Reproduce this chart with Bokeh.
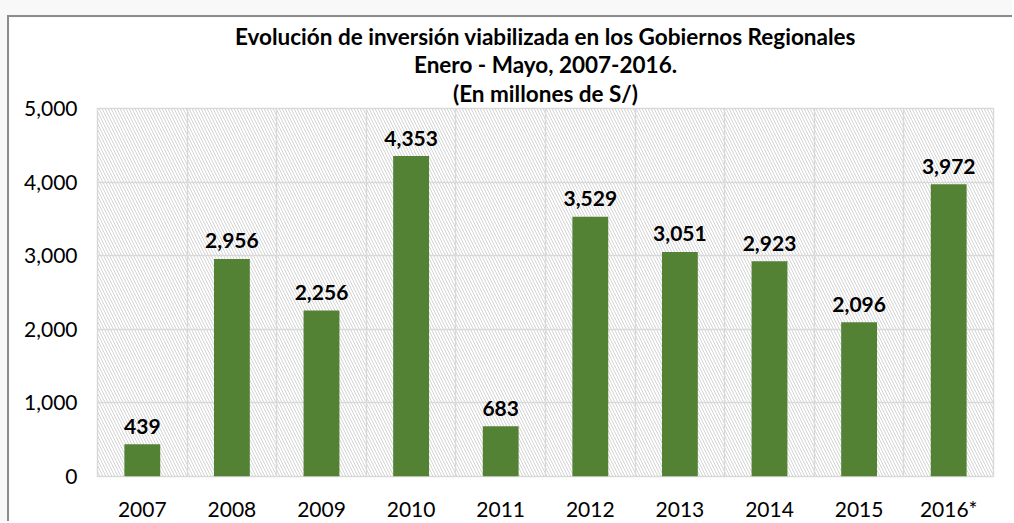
from bokeh.plotting import figure
from bokeh.models import Range1d, FixedTicker, Title, ColumnDataSource, NumeralTickFormatter
from bokeh.layouts import column
from bokeh.core.properties import value
from bokeh.embed import file_html
from bokeh.resources import INLINE

years = ["2007", "2008", "2009", "2010", "2011", "2012", "2013", "2014", "2015", "2016*"]
inversion = [439, 2956, 2256, 4353, 683, 3529, 3051, 2923, 2096, 3972]
title_lines = ["Evolución de inversión viabilizada en los Gobiernos Regionales",
               "Enero - Mayo, 2007-2016.",
               "(En millones de S/)"]
y_ticks = [0, 1000, 2000, 3000, 4000, 5000]

FONT = "Lato"
n = len(years)
ymax = 5000
xs = [i + 0.5 for i in range(n)]
src = ColumnDataSource(dict(x=xs, top=inversion,
                            label=[f"{v:,}" for v in inversion]))

p = figure(width=1005, height=506, output_backend="svg", toolbar_location=None,
           x_range=Range1d(0, n), y_range=Range1d(0, ymax),
           min_border_left=88, min_border_right=21, min_border_top=91, min_border_bottom=45)
p.border_fill_color = "white"
p.background_fill_color = "white"
p.outline_line_color = "#d9d9d9"
p.outline_line_width = 1.5
p.styles = {"border-top": "2px solid #8c8c8c", "border-left": "2px solid #8c8c8c"}

# hatched background
p.quad(left=[0], right=[n], bottom=[0], top=[ymax], fill_alpha=0, line_alpha=0,
       hatch_pattern="\\", hatch_color="#d4d4d4", hatch_scale=6, hatch_weight=1, level="underlay")

p.vbar(x="x", top="top", width=0.4, source=src, fill_color="#548235", line_color=None)
p.text(x="x", y="top", text="label", source=src, text_align="center", text_baseline="alphabetic",
       y_offset=-18, text_font=value(FONT), text_font_style="bold", text_font_size="21px",
       text_color="#000000")

p.xgrid.ticker = FixedTicker(ticks=list(range(n + 1)))
p.ygrid.ticker = FixedTicker(ticks=y_ticks)
for g in (p.xgrid, p.ygrid):
    g.grid_line_color = "#d9d9d9"
    g.grid_line_width = 1.5

p.xaxis.ticker = FixedTicker(ticks=xs)
p.xaxis.major_label_overrides = {x: y for x, y in zip(xs, years)}
p.yaxis.ticker = FixedTicker(ticks=y_ticks)
p.yaxis.formatter = NumeralTickFormatter(format="0,0")
for ax in (p.xaxis, p.yaxis):
    ax.axis_line_color = None
    ax.major_tick_line_color = None
    ax.minor_tick_line_color = None
    ax.major_label_text_font = FONT
    ax.major_label_text_font_size = "21px"
    ax.major_label_text_color = "#000000"
p.xaxis.major_label_standoff = 13
p.yaxis.major_label_standoff = 14

# title lines, nearest the frame first
standoffs = [4, -5, 3]
for line, so in zip(reversed(title_lines), standoffs):
    p.add_layout(Title(text=line, align="center", text_font=FONT, text_font_size="22.5px",
                       text_font_style="bold", text_color="#000000", standoff=so), "above")

layout = column(p, styles={"background-color": "#f8f8f8", "padding-top": "15px",
                           "padding-left": "7px"})

open("out.html", "w").write(file_html(layout, INLINE))
